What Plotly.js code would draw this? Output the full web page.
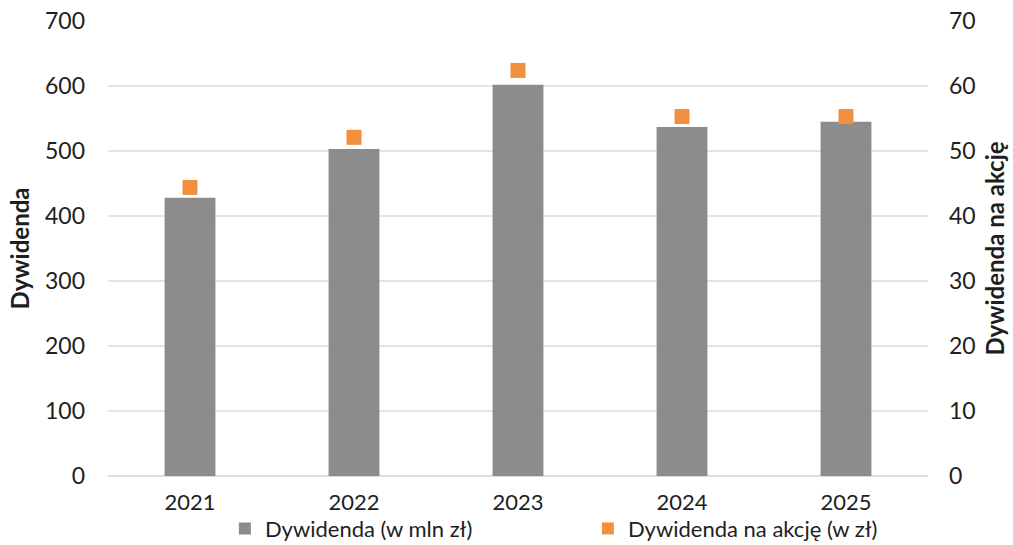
<!DOCTYPE html>
<html>
<head>
<meta charset="utf-8">
<script src="https://cdn.plot.ly/plotly-3.0.1.min.js"></script>
<style>html,body{margin:0;padding:0;background:#fff;}#chart{width:1013px;height:545px;}</style>
</head>
<body>
<div id="chart"></div>
<script>
const years = ['2021', '2022', '2023', '2024', '2025'];
const dividendMln = [428, 503, 602, 537, 545];
const dividendPerShare = [44.4, 52.1, 62.4, 55.3, 55.3];
const leftTicks = [0, 100, 200, 300, 400, 500, 600, 700];
const rightTicks = [0, 10, 20, 30, 40, 50, 60, 70];

const fontFam = 'Lato, "Open Sans", sans-serif';
const txt = '#1e1e1e';
const fs = 23;
const fsBottom = 22;

const traces = [
  {
    type: 'bar', name: 'Dywidenda (w mln zł)', x: years, y: dividendMln,
    marker: {color: '#8c8c8c'}, yaxis: 'y'
  },
  {
    type: 'scatter', mode: 'markers', name: 'Dywidenda na akcję (w zł)', x: years, y: dividendPerShare,
    marker: {symbol: 'square', size: 15, color: '#f2903f'}, yaxis: 'y2'
  }
];

const layout = {
  width: 1013, height: 545,
  margin: {l: 108, r: 85, t: 21, b: 69},
  paper_bgcolor: '#fff', plot_bgcolor: '#fff',
  font: {family: fontFam, size: fs, color: txt},
  bargap: 0.69,
  showlegend: true,
  legend: {
    orientation: 'h', xref: 'container', yref: 'container',
    x: 0.222, xanchor: 'left', y: 0.03, yanchor: 'middle',
    font: {family: fontFam, size: fsBottom, color: txt},
    itemsizing: 'constant', entrywidth: 318, traceorder: 'normal', bgcolor: 'rgba(0,0,0,0)'
  },
  xaxis: {
    type: 'category', tickfont: {family: fontFam, size: fsBottom, color: txt},
    showgrid: false, showline: false, ticks: '', ticklabelstandoff: 11
  },
  yaxis: {
    range: [0, 700], tickvals: leftTicks, ticktext: leftTicks.map(String),
    showgrid: true, gridcolor: '#e4e4e4', gridwidth: 1.5, zeroline: true, zerolinecolor: '#dedede', zerolinewidth: 1.5,
    tickfont: {family: fontFam, size: fs, color: txt}, ticks: '', ticklabelstandoff: 22,
    title: {text: '<b>Dywidenda</b>', font: {family: fontFam, size: 24, color: txt}, standoff: 8}
  },
  yaxis2: {
    range: [0, 70], tickvals: rightTicks, ticktext: rightTicks.map(String), overlaying: 'y', side: 'right',
    showgrid: false, zeroline: false,
    tickfont: {family: fontFam, size: fs, color: txt}, ticks: '', ticklabelstandoff: 20,
    title: {text: '<b>Dywidenda na akcję</b>', font: {family: fontFam, size: 24, color: txt}, standoff: 12}
  }
};

Plotly.newPlot('chart', traces, layout, {displayModeBar: false, responsive: false});
</script>
</body>
</html>
